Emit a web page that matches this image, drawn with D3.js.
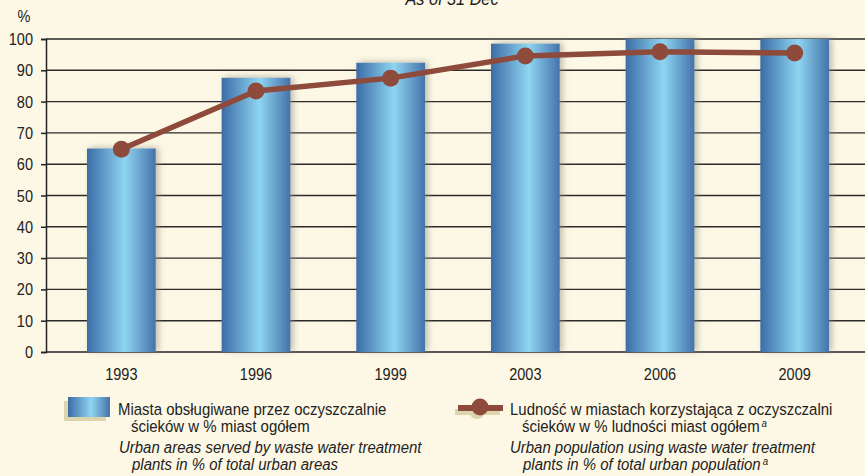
<!DOCTYPE html>
<html><head><meta charset="utf-8">
<script src="https://cdn.jsdelivr.net/npm/d3@7"></script>
<style>
html,body{margin:0;padding:0;background:#fdf8e5;}
svg{display:block;font-family:"Liberation Sans",Arial,sans-serif;}
</style></head>
<body>
<svg id="c" width="865" height="476"></svg>
<script>
const years = ["1993","1996","1999","2003","2006","2009"];
const areasServed = [65, 87.6, 92.4, 98.5, 100, 100];
const popServed = [64.8, 83.4, 87.5, 94.6, 95.9, 95.5];
const yTicks = [0,10,20,30,40,50,60,70,80,90,100];

const SX = 0.88;
const svg = d3.select("#c");
svg.append("rect").attr("width",865).attr("height",476).attr("fill","#fdf8e5");

function ctext(parent, x, y, str, opts) {
  opts = opts || {};
  const g = parent.append("g").attr("transform", `translate(${x},${y}) scale(${SX},1)`);
  const t = g.append("text").attr("x",0).attr("y",0)
    .attr("font-size", opts.size || 17).attr("fill","#222")
    .attr("text-anchor", opts.anchor || "start")
    .attr("font-style", opts.italic ? "italic" : "normal")
    .text(str);
  return t;
}
function supText(parent, x, y) {
  parent.append("g").attr("transform", `translate(${x},${y}) scale(${SX},1)`)
    .append("text").attr("font-size",11).attr("font-style","italic").attr("fill","#222").text("a");
}

const defs = svg.append("defs");
const g1 = defs.append("linearGradient").attr("id","barGrad").attr("x1","0").attr("x2","1").attr("y1","0").attr("y2","0");
g1.append("stop").attr("offset","0%").attr("stop-color","#3b6ca6");
g1.append("stop").attr("offset","55%").attr("stop-color","#8fd5f2");
g1.append("stop").attr("offset","100%").attr("stop-color","#4573aa");
const f = defs.append("filter").attr("id","sh").attr("x","-20%").attr("y","-20%").attr("width","150%").attr("height","140%");
f.append("feDropShadow").attr("dx",3).attr("dy",-1).attr("stdDeviation",3).attr("flood-color","#8a8a80").attr("flood-opacity",0.55);

const y = d3.scaleLinear().domain([0,100]).range([352,39]);
const x = d3.scaleBand().domain(years).range([54,862]).paddingInner(0.49).paddingOuter(0.245);

// gridlines
svg.append("g").selectAll("line").data(yTicks.filter(d=>d>0)).join("line")
  .attr("x1",46).attr("x2",865).attr("y1",d=>y(d)).attr("y2",d=>y(d))
  .attr("stroke","#2a2a2a").attr("stroke-width",1.4);

// y axis
const ya = svg.append("g").attr("transform","translate(46,0)")
  .call(d3.axisLeft(y).tickValues(yTicks).tickSize(5).tickFormat(""));
ya.select(".domain").attr("stroke","#222").attr("stroke-width",1.5);
ya.selectAll(".tick line").attr("stroke","#222").attr("stroke-width",1.5);
const yl = svg.append("g");
yTicks.forEach(t => ctext(yl, 33, y(t)+6, String(t), {size:16.5, anchor:"end"}));

// bottom baseline
svg.append("line").attr("x1",46).attr("x2",865).attr("y1",y(0)).attr("y2",y(0)).attr("stroke","#222").attr("stroke-width",1.5);

// bars
svg.append("g").selectAll("rect").data(years).join("rect")
  .attr("x",d=>x(d)).attr("width",x.bandwidth())
  .attr("y",(d,i)=>y(areasServed[i])).attr("height",(d,i)=>y(0)-y(areasServed[i]))
  .attr("fill","url(#barGrad)").attr("filter","url(#sh)");

// x labels
const xl = svg.append("g");
years.forEach(d => ctext(xl, x(d)+x.bandwidth()/2, 380, d, {size:16.5, anchor:"middle"}));

// line
const cx = d=>x(d)+x.bandwidth()/2;
const lineGen = d3.line().x((d,i)=>cx(years[i])).y(d=>y(d));
svg.append("path").datum(popServed).attr("d",lineGen).attr("fill","none")
  .attr("stroke","#8e4b3b").attr("stroke-width",5.5).attr("stroke-linejoin","round");
svg.append("g").selectAll("circle").data(popServed).join("circle")
  .attr("cx",(d,i)=>cx(years[i])).attr("cy",d=>y(d)).attr("r",8.5).attr("fill","#8e4b3b");

// title & unit
ctext(svg, 452, 5, "As of 31 Dec", {size:18.5, anchor:"middle", italic:true});
ctext(svg, 24, 22, "%", {size:16.5, anchor:"middle"});

// legend 1
svg.append("rect").attr("x",64).attr("y",401).attr("width",42).attr("height",20).attr("fill","#dcd5ae");
svg.append("rect").attr("x",68).attr("y",397).attr("width",42).attr("height",20).attr("fill","url(#barGrad)");
const lg1 = svg.append("g");
ctext(lg1, 118, 415, "Miasta obsługiwane przez oczyszczalnie");
ctext(lg1, 131, 432, "ścieków w % miast ogółem");
ctext(lg1, 119, 453, "Urban areas served by waste water treatment", {italic:true});
ctext(lg1, 132, 470, "plants in % of total urban areas", {italic:true});

// legend 2
svg.append("line").attr("x1",455).attr("x2",500).attr("y1",412).attr("y2",412).attr("stroke","#dcd5ae").attr("stroke-width",6);
svg.append("circle").attr("cx",477).attr("cy",411).attr("r",8).attr("fill","#dcd5ae");
svg.append("line").attr("x1",458).attr("x2",503).attr("y1",408).attr("y2",408).attr("stroke","#8e4b3b").attr("stroke-width",6);
svg.append("circle").attr("cx",480).attr("cy",407).attr("r",8.5).attr("fill","#8e4b3b");
const lg2 = svg.append("g");
ctext(lg2, 510, 415, "Ludność w miastach korzystająca z oczyszczalni");
const t2 = ctext(lg2, 522, 432, "ścieków w % ludności miast ogółem");
ctext(lg2, 510, 453, "Urban population using waste water treatment", {italic:true});
const t4 = ctext(lg2, 523, 470, "plants in % of total urban population", {italic:true});
supText(lg2, 522 + t2.node().getComputedTextLength()*SX + 2, 427);
supText(lg2, 523 + t4.node().getComputedTextLength()*SX + 2, 465);
</script>
</body></html>
